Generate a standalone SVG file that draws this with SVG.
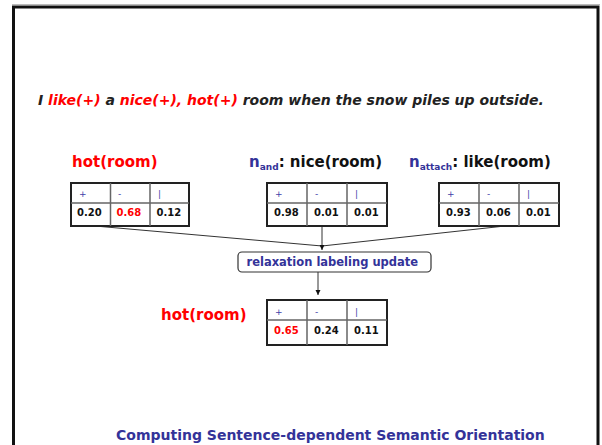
<svg xmlns="http://www.w3.org/2000/svg" width="602" height="445" viewBox="0 0 602 445">
<style>
text{font-family:"DejaVu Sans","Verdana",sans-serif;font-weight:bold}
.sent{font-size:14px;font-style:italic;fill:#222}
.lbl{font-size:15px;fill:#111}
.hd{font-size:9px;font-weight:normal;fill:#4040a8}
.num{font-size:10px;fill:#111}
.outer{fill:#fff;stroke:#222;stroke-width:2}
.inner{stroke:#666;stroke-width:1.5;fill:none}
.conn{stroke:#333;stroke-width:1;fill:none}
text.red,tspan.red{fill:#ff0000}
text.blue,tspan.blue{fill:#333399}
</style>
<defs>
<marker id="ah" markerWidth="6" markerHeight="6" refX="5" refY="3" orient="auto" markerUnits="userSpaceOnUse">
<path d="M0,0.5 L5,3 L0,5.5 Z" fill="#111"/>
</marker>
</defs>
<rect width="602" height="445" fill="#fff"/>
<line x1="12" y1="4.5" x2="600" y2="4.5" stroke="#bbb" stroke-width="1"/>
<path d="M13.5 445 V7 H598 V445" fill="none" stroke="#111" stroke-width="3"/>

<text class="sent" x="38" y="105">I <tspan class="red">like(+)</tspan> a <tspan class="red">nice(+), hot(+)</tspan> room when the snow piles up outside.</text>

<g id="connectors">
<line class="conn" x1="95" y1="226" x2="322" y2="246"/>
<line class="conn" x1="505" y1="226" x2="322" y2="246"/>
<line class="conn" x1="322" y1="226" x2="322" y2="250" marker-end="url(#ah)"/>
<line class="conn" x1="318" y1="272" x2="318" y2="295" marker-end="url(#ah)"/>
</g>

<g id="node-hot-room">
<text class="lbl red" x="72" y="166.5">hot(room)</text>
<rect class="outer" x="71" y="183" width="118" height="43"/>
<path class="inner" d="M71 203 H189 M110.5 183 V226 M150 183 V226"/>
<text class="hd" x="79" y="197">+</text>
<text class="hd" x="118" y="197">-</text>
<text class="hd" x="158" y="197">|</text>
<text class="num" x="77" y="216">0.20</text>
<text class="num red" x="116.5" y="216">0.68</text>
<text class="num" x="156.5" y="216">0.12</text>
</g>

<g id="node-nice-room">
<text class="lbl" x="249" y="166.5"><tspan class="blue">n</tspan><tspan class="blue" font-size="9" dy="3">and</tspan><tspan dy="-3">: nice(room)</tspan></text>
<rect class="outer" x="267" y="183" width="120" height="43"/>
<path class="inner" d="M267 203 H387 M307 183 V226 M347 183 V226"/>
<text class="hd" x="275" y="197">+</text>
<text class="hd" x="315" y="197">-</text>
<text class="hd" x="355" y="197">|</text>
<text class="num" x="274" y="216">0.98</text>
<text class="num" x="314" y="216">0.01</text>
<text class="num" x="354" y="216">0.01</text>
</g>

<g id="node-like-room">
<text class="lbl" x="409" y="166.5"><tspan class="blue">n</tspan><tspan class="blue" font-size="9" dy="3">attach</tspan><tspan dy="-3">: like(room)</tspan></text>
<rect class="outer" x="439" y="183" width="120" height="43"/>
<path class="inner" d="M439 203 H559 M479 183 V226 M519 183 V226"/>
<text class="hd" x="447" y="197">+</text>
<text class="hd" x="487" y="197">-</text>
<text class="hd" x="527" y="197">|</text>
<text class="num" x="446" y="216">0.93</text>
<text class="num" x="486" y="216">0.06</text>
<text class="num" x="526" y="216">0.01</text>
</g>

<g id="node-relax">
<rect x="238" y="252" width="193" height="20" rx="4" fill="#fff" stroke="#333" stroke-width="1.2"/>
<text x="246.5" y="266" font-size="11.5" class="blue">relaxation labeling update</text>
</g>

<g id="node-hot-room-result">
<text class="lbl red" x="161" y="320">hot(room)</text>
<rect class="outer" x="267" y="300" width="120" height="45"/>
<path class="inner" d="M267 320 H387 M307 300 V345 M347 300 V345"/>
<text class="hd" x="275" y="315">+</text>
<text class="hd" x="315" y="315">-</text>
<text class="hd" x="355" y="315">|</text>
<text class="num red" x="274" y="334">0.65</text>
<text class="num" x="314" y="334">0.24</text>
<text class="num" x="354" y="334">0.11</text>
</g>

<text x="116" y="440" font-size="14" class="blue">Computing Sentence-dependent Semantic Orientation</text>
</svg>
